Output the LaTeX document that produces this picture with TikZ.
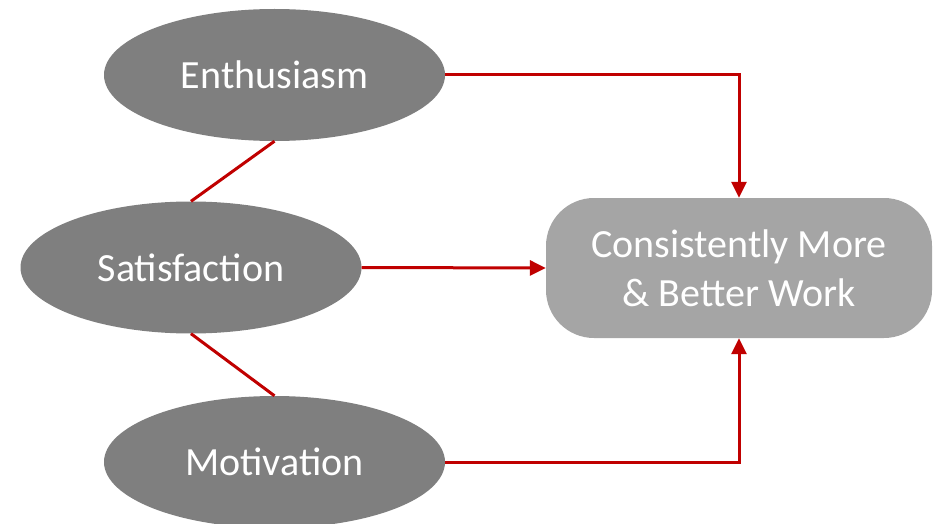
\documentclass[tikz,border=0pt]{standalone}
\usepackage{fontspec}
\setmainfont{Carlito}
\usetikzlibrary{shapes.geometric,arrows.meta}
\definecolor{ellgray}{HTML}{7F7F7F}
\definecolor{boxgray}{HTML}{A5A5A5}
\definecolor{linkred}{HTML}{C00000}
\begin{document}
\begin{tikzpicture}[x=1pt,y=-1pt,
  oval/.style={ellipse, fill=ellgray, minimum width=341pt, minimum height=132pt, inner sep=0pt,
    text=white, font=\fontsize{40}{49}\selectfont},
  outbox/.style={rounded corners=48pt, fill=boxgray, minimum width=386pt, minimum height=140pt,
    text=white, align=center, font=\fontsize{40}{49}\selectfont},
  link/.style={draw=linkred, line width=3pt},
  flow/.style={link, -{Triangle[length=16pt,width=15pt]}}]
\useasboundingbox (0,0) rectangle (939,524);
\clip (0,0) rectangle (939,524);
\node[oval] (enth) at (274.5,75) {Enthusiasm};
\node[oval] (sat) at (191,267.5) {Satisfaction};
\node[oval] (mot) at (274.5,462) {Motivation};
\node[outbox] (work) at (739,268) {Consistently More\\\& Better Work};
\draw[link] (enth.south) -- (sat.north);
\draw[link] (sat.south) -- (mot.north);
\draw[flow] (enth.east) -| (work.north);
\draw[flow] (sat.east) -- (work.west);
\draw[flow] (mot.east) -| (work.south);
\end{tikzpicture}
\end{document}
